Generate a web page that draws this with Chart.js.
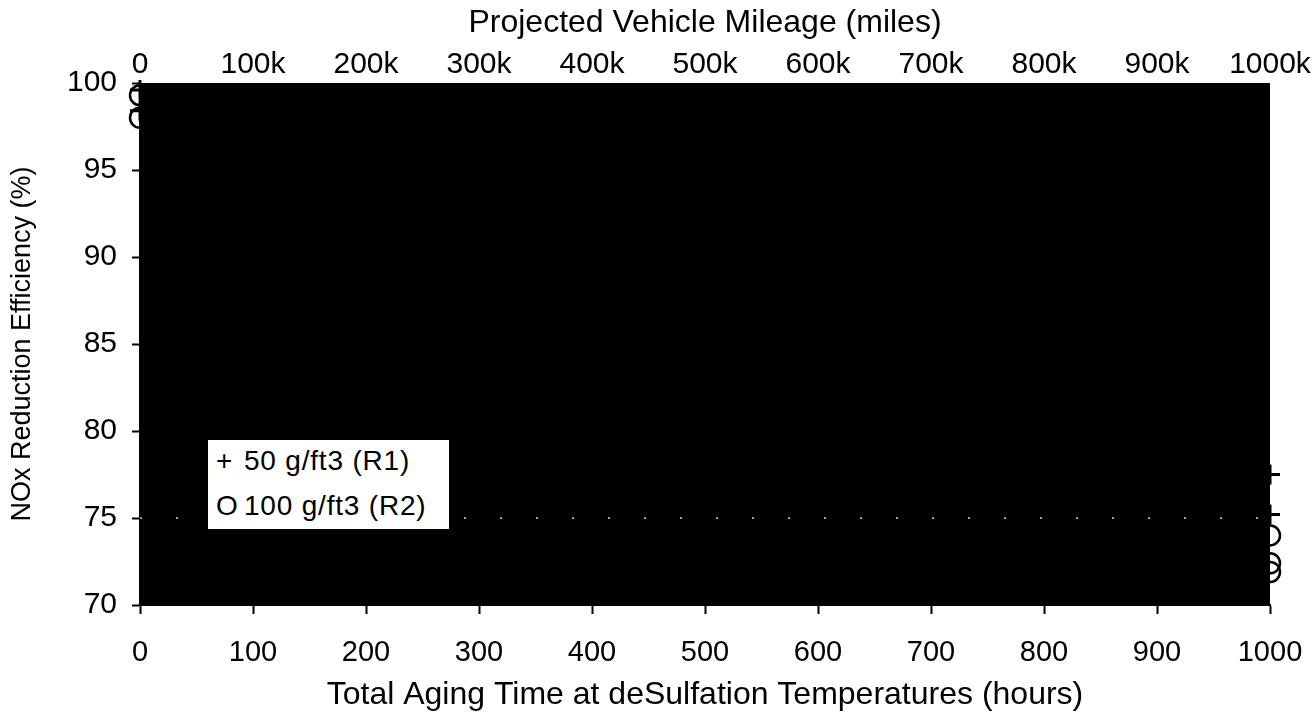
<!DOCTYPE html>
<html>
<head>
<meta charset="utf-8">
<script src="https://cdn.jsdelivr.net/npm/chart.js@4/dist/chart.umd.min.js"></script>
<style>
  body { margin: 0; background: #fff; }
  #wrap { position: relative; width: 1314px; height: 717px; }
  #legend {
    position: absolute; left: 208px; top: 440px; width: 241px; height: 89px;
    background: #fff; font-family: "Liberation Sans", Arial, sans-serif;
    font-size: 28px; letter-spacing: 0.8px; color: #000;
  }
  #legend div { position: absolute; left: 8px; white-space: nowrap; }
  #legend span { display: inline-block; width: 28px; }
</style>
</head>
<body>
<div id="wrap">
  <canvas id="chart" width="1314" height="717"></canvas>
  <div id="legend">
    <div style="top:5px"><span>+</span>50 g/ft3 (R1)</div>
    <div style="top:50px"><span>O</span>100 g/ft3 (R2)</div>
  </div>
</div>
<script>
// aging hours (x) and NOx efficiency (%) - only the markers that show at the plot edges
var r1Hours = [0, 0, 1000, 1000];
var r1Eff = [99.6, 98.4, 77.5, 75.2];
var r2Hours = [0, 0, 1000, 1000, 1000];
var r2Eff = [99.3, 98.0, 74.0, 72.4, 71.9];

// dotted reference line at 75 %
var refHours = [0, 1000];
var refEff = [75, 75];

var mileageTicks = ['0', '100k', '200k', '300k', '400k', '500k', '600k', '700k', '800k', '900k', '1000k'];

var fontFam = '"Liberation Sans", Arial, Helvetica, sans-serif';

function pts(xs, ys) {
    var out = [];
    for (var i = 0; i < xs.length; i++) out.push({x: xs[i], y: ys[i]});
    return out;
}

// black plot area, as in the scanned original
var areaFill = {
    id: 'areaFill',
    beforeDatasetsDraw: function(chart) {
        var a = chart.chartArea;
        var c = chart.ctx;
        c.save();
        c.fillStyle = '#000';
        c.fillRect(a.left, a.top, a.right - a.left, a.bottom - a.top);
        c.restore();
    }
};

// keep the plot box fixed, no extra room for overhanging labels
function noSidePad(s) {
    s.paddingLeft = 0;
    s.paddingRight = 0;
}

var ctx = document.getElementById('chart').getContext('2d');

var config = {
    type: 'scatter',
    data: {
        datasets: [
            {
                label: 'ref', data: pts(refHours, refEff), showLine: true,
                borderColor: '#cfcfcf', borderWidth: 1.5, borderDash: [2, 34],
                pointRadius: 0, clip: false
            },
            {
                label: '50 g/ft3 (R1)', data: pts(r1Hours, r1Eff),
                pointStyle: 'cross', pointRadius: 10, pointBorderWidth: 3,
                pointBorderColor: '#000', pointBackgroundColor: 'transparent', clip: false
            },
            {
                label: '100 g/ft3 (R2)', data: pts(r2Hours, r2Eff),
                pointStyle: 'circle', pointRadius: 10, pointBorderWidth: 2.5,
                pointBorderColor: '#000', pointBackgroundColor: 'transparent', clip: false
            }
        ]
    },
    options: {
        responsive: false,
        animation: false,
        layout: { padding: { right: 44, left: 0, top: 0, bottom: 0 } },
        plugins: { legend: { display: false }, tooltip: { enabled: false } },
        scales: {
            x: {
                type: 'linear', position: 'bottom', min: 0, max: 1000,
                ticks: { stepSize: 100, autoSkip: false, maxRotation: 0, color: '#000', padding: 22,
                         font: { family: fontFam, size: 29 },
                         callback: function(v) { return String(v); } },
                grid: { drawOnChartArea: false, color: '#000', tickLength: 9, tickWidth: 2 },
                border: { color: '#000', width: 2 },
                title: { display: true, text: 'Total Aging Time at deSulfation Temperatures (hours)',
                         color: '#000', font: { family: fontFam, size: 32 }, padding: { top: 0, bottom: 3 } },
                afterFit: function(s) { s.height = 112; noSidePad(s); }
            },
            x2: {
                type: 'linear', position: 'top', min: 0, max: 1000,
                ticks: { stepSize: 100, autoSkip: false, maxRotation: 0, color: '#000', padding: 0,
                         font: { family: fontFam, size: 30 },
                         callback: function(v) { return mileageTicks[Math.round(v / 100)]; } },
                grid: { display: false, drawTicks: false },
                border: { display: false },
                title: { display: true, text: 'Projected Vehicle Mileage (miles)',
                         color: '#000', font: { family: fontFam, size: 32 }, padding: { top: 4, bottom: 0 } },
                afterFit: function(s) { s.height = 83; noSidePad(s); }
            },
            y: {
                type: 'linear', position: 'left', min: 70, max: 100,
                ticks: { stepSize: 5, color: '#000', padding: 15, font: { family: fontFam, size: 30 } },
                grid: { drawOnChartArea: false, color: '#000', tickLength: 8, tickWidth: 2 },
                border: { color: '#000', width: 2 },
                title: { display: true, text: 'NOx Reduction Efficiency (%)',
                         color: '#000', font: { family: fontFam, size: 27 }, padding: { top: 6, bottom: 0 } },
                afterFit: function(s) { s.width = 140; }
            }
        }
    },
    plugins: [areaFill]
};

var chart = new Chart(ctx, config);
</script>
</body>
</html>
